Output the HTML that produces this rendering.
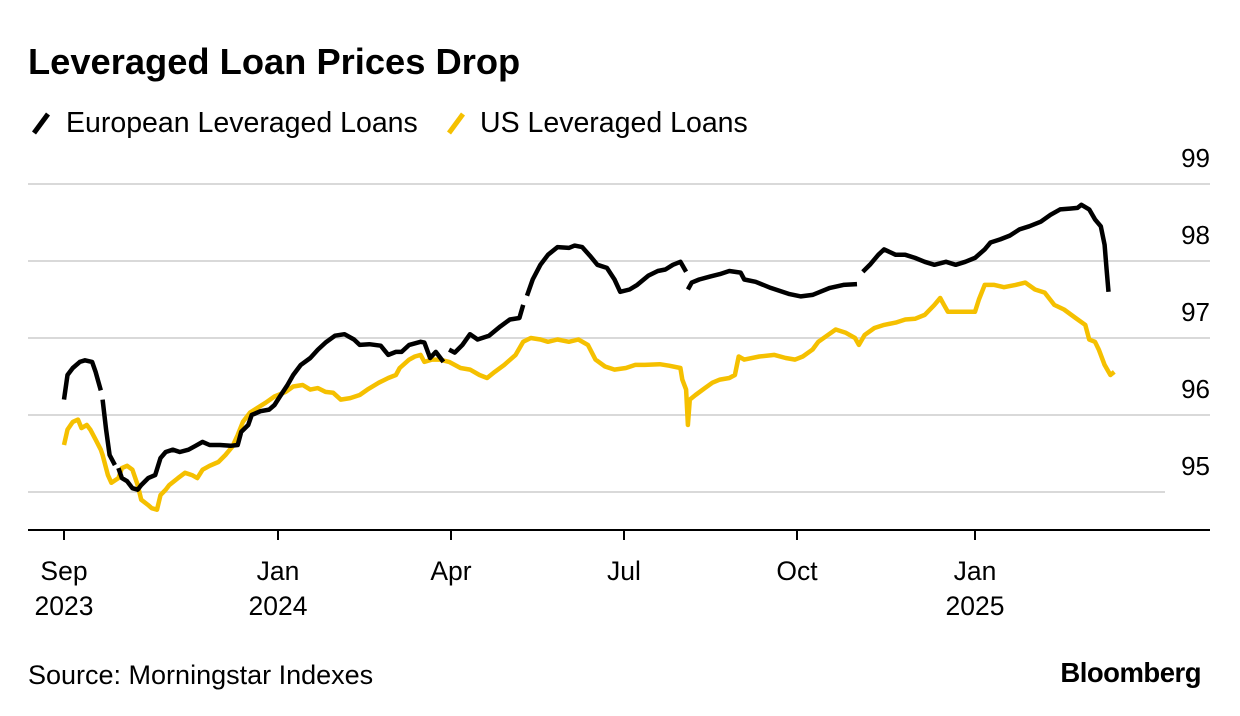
<!DOCTYPE html>
<html><head><meta charset="utf-8"><style>
body{margin:0;background:#fff;width:1240px;height:716px;overflow:hidden;font-family:"Liberation Sans",sans-serif}
svg{position:absolute;left:0;top:0}
</style></head><body>
<svg width="1240" height="716">
<text x="28" y="74" font-size="36.3" font-weight="bold" fill="#000">Leveraged Loan Prices Drop</text>
<g>
<line x1="34" y1="133" x2="48" y2="114" stroke="#000" stroke-width="5"/>
<text x="66" y="132" font-size="28.5">European Leveraged Loans</text>
<line x1="449" y1="133" x2="463" y2="114" stroke="#f5c000" stroke-width="5"/>
<text x="480" y="132" font-size="28.5">US Leveraged Loans</text>
</g>
<g id="grid"></g><g id="axes"></g><g id="series"></g>
<text x="28" y="684" font-size="27">Source: Morningstar Indexes</text>
<text x="1201" y="682" font-size="27.5" font-weight="bold" text-anchor="end" letter-spacing="-0.5">Bloomberg</text>
</svg>
<script>
const yTicks=[95,96,97,98,99];
const xTickDays=[0,122,213,304,396,488];
const xTickMonth=["Sep","Jan","Apr","Jul","Oct","Jan"];
const xTickYear=["2023","2024","","","","2025"];
const euDays=[0,2,5,9,12,16,18,21,null,22,24,26,29,null,31,33,36,39,42,44,48,52,55,58,62,66,71,75,79,83,89,95,99,101,105,107,112,117,120,123,127,130,134,139,143,147,152,157,162,165,170,176,180,184,187,191,197,199,202,205,209,null,212,215,219,223,227,233,239,244,249,251,null,253,256,260,264,269,275,278,282,286,290,295,299,302,307,311,317,322,326,330,334,337,null,338,340,344,350,355,360,366,368,374,382,387,392,398,404,408,413,420,427,null,430,434,438,441,447,452,457,462,467,473,478,483,488,493,496,501,506,511,516,522,527,532,537,541,543,547,550,553,555,556,557];
const euVals=[96.20,96.52,96.61,96.69,96.71,96.69,96.56,96.32,null,96.20,95.81,95.48,95.35,null,95.31,95.18,95.14,95.05,95.03,95.09,95.18,95.22,95.44,95.52,95.55,95.52,95.55,95.60,95.65,95.61,95.61,95.60,95.61,95.78,95.87,96.00,96.05,96.07,96.13,96.24,96.39,96.52,96.65,96.74,96.85,96.94,97.03,97.05,96.98,96.91,96.92,96.90,96.78,96.82,96.82,96.91,96.95,96.94,96.74,96.82,96.69,null,96.85,96.81,96.91,97.05,96.98,97.03,97.15,97.24,97.26,97.43,null,97.55,97.76,97.95,98.08,98.18,98.17,98.20,98.18,98.07,97.95,97.91,97.76,97.60,97.63,97.69,97.81,97.87,97.89,97.95,97.99,97.86,null,97.63,97.72,97.76,97.80,97.83,97.87,97.85,97.76,97.73,97.65,97.61,97.57,97.54,97.56,97.60,97.65,97.69,97.70,null,97.86,97.96,98.08,98.15,98.08,98.08,98.04,97.99,97.95,97.99,97.95,97.99,98.04,98.15,98.24,98.28,98.33,98.41,98.45,98.51,98.60,98.67,98.68,98.69,98.73,98.67,98.54,98.45,98.21,97.89,97.60];
const usDays=[0,2,5,8,10,13,15,18,21,22,25,27,31,33,36,39,42,44,48,50,53,55,58,60,65,69,73,76,79,83,88,92,96,99,102,106,110,115,120,126,130,135,139,143,147,151,155,160,165,169,175,180,184,186,191,194,197,199,203,207,212,218,223,228,232,236,241,247,251,255,260,264,269,275,280,285,289,294,299,305,310,315,323,328,334,335,337,338,339,342,347,351,355,360,363,365,368,376,384,390,395,399,404,407,412,416,421,426,428,431,436,441,447,452,457,462,467,470,472,474,480,488,490,493,498,503,509,514,519,524,529,534,540,545,547,550,552,555,558,560];
const usVals=[95.61,95.81,95.91,95.94,95.83,95.87,95.81,95.68,95.55,95.48,95.22,95.12,95.18,95.31,95.34,95.29,95.09,94.90,94.83,94.79,94.77,94.96,95.03,95.09,95.18,95.25,95.22,95.18,95.29,95.34,95.39,95.48,95.59,95.74,95.91,96.03,96.09,96.16,96.24,96.30,96.37,96.39,96.33,96.35,96.30,96.29,96.20,96.22,96.26,96.33,96.42,96.48,96.52,96.61,96.72,96.76,96.78,96.69,96.72,96.72,96.69,96.61,96.59,96.52,96.48,96.56,96.65,96.78,96.95,97.00,96.98,96.95,96.98,96.95,96.98,96.91,96.72,96.63,96.59,96.61,96.65,96.65,96.66,96.64,96.61,96.46,96.33,95.87,96.20,96.26,96.35,96.42,96.46,96.48,96.52,96.76,96.72,96.76,96.78,96.74,96.72,96.76,96.85,96.95,97.04,97.11,97.07,97.00,96.91,97.04,97.13,97.17,97.20,97.24,97.25,97.30,97.43,97.52,97.43,97.34,97.34,97.34,97.50,97.69,97.69,97.66,97.69,97.72,97.63,97.59,97.43,97.37,97.26,97.17,96.98,96.95,96.85,96.65,96.52,96.56];

const tickPx=[64,278,451,624,797,975];
function xs(d){let i=0;while(i<xTickDays.length-2&&d>xTickDays[i+1])i++;const a=xTickDays[i],b=xTickDays[i+1];return tickPx[i]+(d-a)*(tickPx[i+1]-tickPx[i])/(b-a);}
function ys(v){return 492-(v-95)*77;}
const NS="http://www.w3.org/2000/svg";
function mk(t,at,p){const e=document.createElementNS(NS,t);for(const k in at)e.setAttribute(k,at[k]);p.appendChild(e);return e;}
const grid=document.getElementById('grid'),axes=document.getElementById('axes'),ser=document.getElementById('series');
yTicks.forEach(v=>{
 const l=mk('line',{x1:28,x2:v===95?1165:1210,y1:ys(v),y2:ys(v),stroke:'#d9d9d9','stroke-width':2},grid);
 
 
 const t=mk('text',{x:1210,y:ys(v)-17,'font-size':26,'text-anchor':'end'},grid);
 t.textContent=v;
 
 
});
const ax=mk('line',{x1:28,x2:1210,y1:530,y2:530,stroke:'#000','stroke-width':2},axes);


xTickDays.forEach((d,i)=>{
 const x=xs(d);
 const tk=mk('line',{x1:x,x2:x,y1:530,y2:540,stroke:'#000','stroke-width':2},axes);
 
 
 const t=mk('text',{x:x,y:580,'font-size':26.5,'text-anchor':'middle'},axes);
 t.textContent=xTickMonth[i];
 
 
 if(xTickYear[i]){const t2=mk('text',{x:x,y:615,'font-size':26.5,'text-anchor':'middle'},axes);
 t2.textContent=xTickYear[i];
 
 }
});
function path(days,vals){let d='',pen=false;for(let i=0;i<days.length;i++){if(vals[i]===null){pen=false;continue;}d+=(pen?'L':'M')+xs(days[i]).toFixed(1)+','+ys(vals[i]).toFixed(1);pen=true;}return d;}
const us=mk('path',{d:path(usDays,usVals),fill:'none',stroke:'#f5c000','stroke-width':4.5,'stroke-linejoin':'round'},ser);


const eu=mk('path',{d:path(euDays,euVals),fill:'none',stroke:'#000','stroke-width':4.5,'stroke-linejoin':'round'},ser);


</script>
</body></html>
